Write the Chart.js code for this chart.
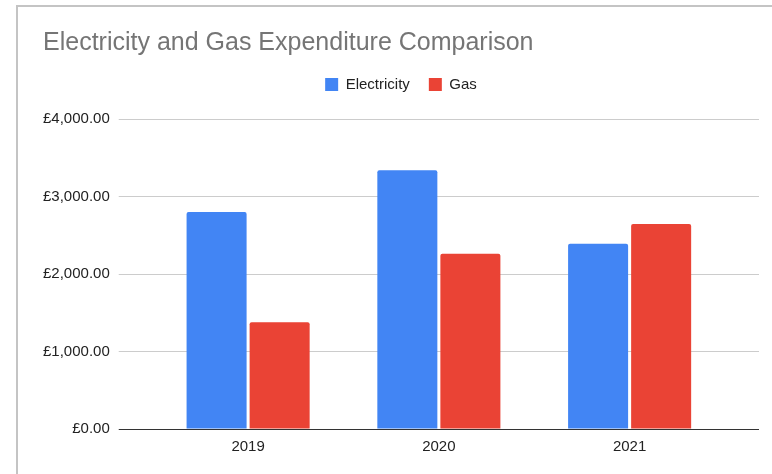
<!DOCTYPE html>
<html>
<head>
<meta charset="utf-8">
<script src="https://cdn.jsdelivr.net/npm/chart.js@4"></script>
<style>
  html, body { margin: 0; padding: 0; background: #fff; }
  #moldura {
    position: absolute; left: 16px; top: 5px; right: 0; bottom: 0;
    border-left: 2px solid #c4c4c4; border-top: 2px solid #c4c4c4;
  }
  #caixa { position: absolute; left: 0; top: 0; width: 772px; height: 474px; }
</style>
</head>
<body>
<div id="moldura"></div>
<div id="caixa"><canvas id="graficoDespesas"></canvas></div>
<script>
// Dados do gráfico
const anos = ['2019', '2020', '2021'];
const eletricidade = [2800, 3340, 2390];
const gas = [1377, 2262, 2645];
const yTicks = [0, 1000, 2000, 3000, 4000];
const yTickLabels = ['£0.00', '£1,000.00', '£2,000.00', '£3,000.00', '£4,000.00'];

// cor da linha de grade: a do zero é escura
const corGrade = (c) => (c.tick && c.tick.value === 0 ? '#333333' : '#cccccc');

// espaço extra abaixo da legenda
const espacoLegenda = {
    id: 'espacoLegenda',
    beforeInit(chart) {
        const fitOriginal = chart.legend.fit;
        chart.legend.fit = function () {
            fitOriginal.bind(chart.legend)();
            this.height += 17;
        };
    }
};

const ctx = document.getElementById('graficoDespesas').getContext('2d');
const grafico = new Chart(ctx, {
    type: 'bar',
    data: {
        labels: anos,
        datasets: [{
            label: 'Electricity',
            data: eletricidade,
            backgroundColor: '#4285f4',
            borderRadius: 2,
            borderSkipped: 'bottom'
        }, {
            label: 'Gas',
            data: gas,
            backgroundColor: '#ea4335',
            borderRadius: 2,
            borderSkipped: 'bottom'
        }]
    },
    options: {
        responsive: true,
        maintainAspectRatio: false,
        animation: false,
        categoryPercentage: 0.661,
        barPercentage: 0.952,
        layout: {
            padding: { top: 5, left: 43, right: 13, bottom: 10 }
        },
        plugins: {
            title: {
                display: true,
                text: 'Electricity and Gas Expenditure Comparison',
                align: 'start',
                color: '#757575',
                font: { family: 'Liberation Sans, Arial', size: 25, weight: 'normal' },
                padding: { top: 23, bottom: 0 }
            },
            legend: {
                display: true,
                labels: {
                    boxWidth: 13,
                    boxHeight: 13,
                    padding: 19,
                    color: '#222222',
                    font: { family: 'Liberation Sans, Arial', size: 15 }
                }
            },
            tooltip: { enabled: false }
        },
        scales: {
            x: {
                grid: { display: false, drawTicks: false },
                border: { display: false },
                ticks: {
                    padding: 8.5,
                    color: '#222222',
                    font: { family: 'Liberation Sans, Arial', size: 15 }
                }
            },
            y: {
                min: 0,
                max: 4000,
                afterBuildTicks: (escala) => { escala.ticks = yTicks.map(v => ({ value: v })); },
                afterFit: (escala) => { escala.width -= 9; },
                grid: { color: corGrade, tickLength: 34 },
                border: { display: false },
                ticks: {
                    padding: 9,
                    color: '#222222',
                    font: { family: 'Liberation Sans, Arial', size: 15 },
                    callback: (valor, i) => yTickLabels[i]
                }
            },
            y2: {
                position: 'right',
                min: 0,
                max: 4000,
                afterBuildTicks: (escala) => { escala.ticks = yTicks.map(v => ({ value: v })); },
                grid: { color: corGrade, tickLength: 34, drawOnChartArea: false },
                border: { display: false },
                ticks: { display: false }
            }
        }
    },
    plugins: [espacoLegenda]
});
</script>
</body>
</html>
